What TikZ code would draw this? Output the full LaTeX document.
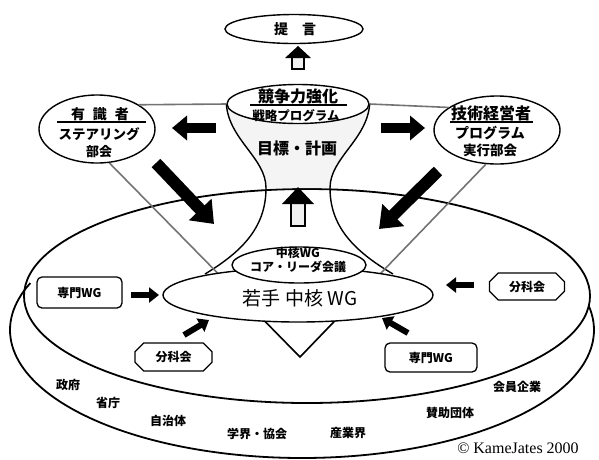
\documentclass[tikz,border=0pt]{standalone}
\usepackage{fontspec}
\setmainfont{Liberation Serif}
\newfontfamily\jp{Noto Sans CJK JP}
\usetikzlibrary{arrows.meta,shapes.misc,shapes.geometric,calc}
\newcommand{\fs}[1]{\fontsize{#1}{#1}\selectfont}
\begin{document}
\begin{tikzpicture}[x=1pt,y=-1pt,
  jt/.style={font=\jp\bfseries, inner sep=0pt},
  jr/.style={font=\jp, inner sep=0pt},
  oval/.style={draw, ellipse, line width=1.4pt, fill=white, inner sep=0pt},
  grayline/.style={draw=black!55, line width=1.6pt},
  bigarrow/.style={line width=10pt, -{Triangle[length=15pt,width=24pt]}},
  diagarrow/.style={line width=12pt, -{Triangle[length=20pt,width=30pt]}},
  smallarrow/.style={line width=6pt, -{Triangle[length=10pt,width=15pt]}},
  wgbox/.style={draw, rounded corners=5pt, line width=1.3pt, fill=white, inner sep=0pt, font=\jp\bfseries\fs{12}},
  bunbox/.style={draw, chamfered rectangle, chamfered rectangle xsep=6pt, line width=1.3pt, fill=white, inner sep=0pt, font=\jp\bfseries\fs{12}},
  lbl/.style={font=\jp\bfseries\fs{12}, inner sep=0pt},
  uline/.style={line width=1.3pt},
]
\useasboundingbox (0,0) rectangle (599,459);
% outer disk
\draw[line width=1.8pt] (307,296) ellipse [x radius=283, y radius=107];
\draw[line width=1.8pt, smooth, samples=120, domain=-11:201.5] plot ({302+292*cos(\x)},{330+128*sin(\x)});
% bowl
\fill[gray!9] (227,104) .. controls (229,140) and (266,158) .. (266,188) -- (330,188) .. controls (330,158) and (367,140) .. (369,104) -- cycle;
\node[oval, minimum width=142pt, minimum height=39pt] (rim) at (298,104) {};
\draw[line width=1.4pt] (rim.west) .. controls (229,140) and (266,158) .. (266,188) .. controls (266,225) and (245,250) .. (205,274);
\draw[line width=1.4pt] (rim.east) .. controls (367,140) and (330,158) .. (330,188) .. controls (330,225) and (352,250) .. (393,274);
% side ellipses
\node[oval, minimum width=116pt, minimum height=68pt] (yushiki) at (97,129) {};
\node[oval, minimum width=126pt, minimum height=68pt] (gijutsu) at (497,130) {};
\node[oval, minimum width=138pt, minimum height=29pt] (teigen) at (294,29) {};
% gray lines
\coordinate (apex) at (300,357);
\draw[grayline] (yushiki.30) -- (rim.west);
\draw[grayline] (rim.east) -- (gijutsu.155);
\draw[grayline] (yushiki.-70) -- (apex);
\draw[grayline] (gijutsu.-108) -- (apex);
\draw[line width=1.4pt] ($(apex)!0.28!(yushiki.-70)$) -- (apex) -- ($(apex)!0.28!(gijutsu.-108)$);
% WG ellipses
\node[oval, minimum width=270pt, minimum height=54pt] (wakate) at (298,295) {};
\node[oval, minimum width=134pt, minimum height=36pt] (core) at (299,265) {};
\node[jr] (t-wakate) at (300,298) {\fs{19}若手 中核 WG};
\node[jt] (t-core1) at (298,253) {\fs{12}中核WG};
\node[jt] (t-core2) at (298,267) {\fs{12}コア・リーダ会議};
% big arrows
\coordinate (la-s) at (216,128); \coordinate (la-e) at (172,128);
\draw[bigarrow] (la-s) -- (la-e);
\coordinate (ra-s) at (381,128); \coordinate (ra-e) at (425,128);
\draw[bigarrow] (ra-s) -- (ra-e);
\coordinate (ld-s) at (156,163); \coordinate (ld-e) at (214,224);
\draw[diagarrow] (ld-s) -- (ld-e);
\coordinate (rd-s) at (438,171); \coordinate (rd-e) at (379,229);
\draw[diagarrow] (rd-s) -- (rd-e);
% up arrows
\draw[line width=1.8pt, fill=gray!12] (291,203) rectangle (305,226);
\fill (282,204) -- (298,187) -- (314,204) -- cycle;
\draw[line width=2.5pt, fill=gray!12] (292,57) rectangle (304,69);
\fill (285,58) -- (298,46) -- (311,58) -- cycle;
% boxes
\node[wgbox, minimum width=85pt, minimum height=31pt] (senmon1) at (79.5,292.5) {専門WG};
\node[wgbox, minimum width=92pt, minimum height=29pt] (senmon2) at (431,357.5) {専門WG};
\node[bunbox, minimum width=75pt, minimum height=27pt] (bun1) at (527,286.5) {分科会};
\node[bunbox, minimum width=77pt, minimum height=28pt] (bun2) at (173.5,357) {分科会};
% small arrows
\coordinate (s1-s) at (131,295); \coordinate (s1-e) at (159,295);
\draw[smallarrow] (s1-s) -- (s1-e);
\coordinate (s2-s) at (474,285); \coordinate (s2-e) at (446,285);
\draw[smallarrow] (s2-s) -- (s2-e);
\coordinate (s3-s) at (184,335); \coordinate (s3-e) at (209,320);
\draw[smallarrow] (s3-s) -- (s3-e);
\coordinate (s4-s) at (408,333); \coordinate (s4-e) at (382,318);
\draw[smallarrow] (s4-s) -- (s4-e);
% texts
\node[jt] (t-teigen) at (295,29) {\fs{14}提\hspace{14pt}言};
\node[jt] (t-kyoso) at (298,96) {\fs{16}競争力強化};
\draw[uline] (250,105) -- (347,105);
\node[jt] (t-senryaku) at (296,116) {\fs{12.5}戦略プログラム};
\node[jt] (t-mokuhyo) at (297,148) {\fs{16}目標・計画};
\node[jt] (t-yushiki) at (100,114) {\fs{14}有\hspace{8pt}識\hspace{8pt}者};
\draw[uline] (57,122) -- (146,122);
\node[jt] (t-steer) at (99,134) {\fs{13.5}ステアリング};
\node[jt] (t-bukai) at (99,152) {\fs{13}部会};
\node[jt] (t-gijutsu) at (491,113) {\fs{16}技術経営者};
\draw[uline] (450,122) -- (533,122);
\node[jt] (t-prog) at (490,133) {\fs{14}プログラム};
\node[jt] (t-jikko) at (490,150) {\fs{13.5}実行部会};
% bottom labels
\node[lbl] (seifu) at (68,385) {政府};
\node[lbl] (shocho) at (108,403) {省庁};
\node[lbl] (jichitai) at (168,421) {自治体};
\node[lbl] (gakkai) at (257,434) {学界・協会};
\node[lbl] (sangyo) at (348,433) {産業界};
\node[lbl] (sanjo) at (450,413) {賛助団体};
\node[lbl] (kaiin) at (517,387) {会員企業};
\node[inner sep=0pt, font=\fs{16}] (copy) at (518,448) {\textcopyright{} KameJates 2000};
\end{tikzpicture}
\end{document}
